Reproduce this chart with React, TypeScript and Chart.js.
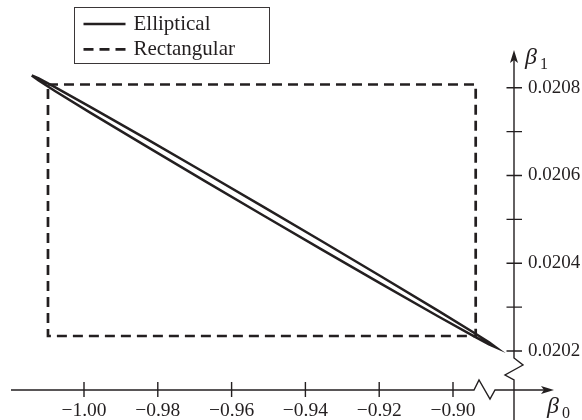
import React, { useEffect, useRef } from 'react';
import { Chart, registerables } from 'chart.js';

Chart.register(...registerables);

// ---- data -------------------------------------------------------------
const xTicks = [-1.0, -0.98, -0.96, -0.94, -0.92, -0.9];
const xTickLabels = ['−1.00', '−0.98', '−0.96', '−0.94', '−0.92', '−0.90'];
const yTicks = [0.0202, 0.0203, 0.0204, 0.0205, 0.0206, 0.0207, 0.0208];
const yTickLabels = ['0.0202', '', '0.0204', '', '0.0206', '', '0.0208'];

// elliptical joint region outline (upper edge left->right, lower edge right->left)
const ellipseBeta0 = [
  -1.01417, -1.01228, -1.00788, -0.99844, -0.98272, -0.96699, -0.95126,
  -0.93553, -0.9198, -0.90408, -0.89464, -0.89024, -0.88835,
  -0.89024, -0.89464, -0.90408, -0.9198, -0.93553, -0.95126, -0.96699,
  -0.98272, -0.99844, -1.00788, -1.01228, -1.01417,
];
const ellipseBeta1 = [
  0.0208278, 0.020821, 0.0208012, 0.0207569, 0.0206815, 0.020605, 0.0205278,
  0.02045, 0.0203715, 0.0202921, 0.0202434, 0.0202198, 0.020208,
  0.020215, 0.0202348, 0.0202791, 0.0203545, 0.020431, 0.0205082, 0.020586,
  0.0206645, 0.0207439, 0.0207926, 0.0208162, 0.0208278,
];

// rectangular (Bonferroni) region
const rectBeta0 = [-1.00976, -0.89385];
const rectBeta1 = [0.0202342, 0.0208073];

// visible ranges of the two axes
const xRange = [-1.020054, -0.883469];
const yRange = [0.0201111, 0.0209087];

// ---- styles -----------------------------------------------------------
const INK = '#231f20';
const SERIF = '"Liberation Serif", "Times New Roman", serif';

const axesPlugin = {
  id: 'mathAxes',
  afterDraw(chart: any) {
    const { ctx, chartArea: ca, scales } = chart;
    const xs = scales.x;
    const ys = scales.y;
    const ax = ca.right;
    const ay = ca.bottom;
    ctx.save();
    ctx.strokeStyle = INK;
    ctx.fillStyle = INK;
    ctx.lineWidth = 1.4;
    ctx.setLineDash([]);

    // x axis with break and arrow
    ctx.beginPath();
    ctx.moveTo(ca.left + 1, ay);
    ctx.lineTo(ax - 40, ay);
    ctx.lineTo(ax - 35, ay - 10);
    ctx.lineTo(ax - 24, ay + 9);
    ctx.lineTo(ax - 19, ay);
    ctx.lineTo(ax + 32, ay);
    ctx.stroke();
    ctx.beginPath();
    ctx.moveTo(ax + 40, ay);
    ctx.lineTo(ax + 27, ay - 4);
    ctx.lineTo(ax + 30, ay);
    ctx.lineTo(ax + 27, ay + 4);
    ctx.closePath();
    ctx.fill();

    // y axis with break and arrow
    const yTop = ca.top + 10;
    ctx.beginPath();
    ctx.moveTo(ax, yTop + 8);
    ctx.lineTo(ax, ay - 32);
    ctx.lineTo(ax + 9, ay - 25);
    ctx.lineTo(ax - 9, ay - 15);
    ctx.lineTo(ax, ay - 10);
    ctx.lineTo(ax, chart.height);
    ctx.stroke();
    ctx.beginPath();
    ctx.moveTo(ax, yTop);
    ctx.lineTo(ax - 4, yTop + 13);
    ctx.lineTo(ax, yTop + 10);
    ctx.lineTo(ax + 4, yTop + 13);
    ctx.closePath();
    ctx.fill();

    // tick marks crossing the axes
    ctx.beginPath();
    xTicks.forEach((v) => {
      const px = xs.getPixelForValue(v);
      ctx.moveTo(px, ay - 8);
      ctx.lineTo(px, ay + 7);
    });
    yTicks.forEach((v) => {
      const py = ys.getPixelForValue(v);
      ctx.moveTo(ax - 7.5, py);
      ctx.lineTo(ax + 8, py);
    });
    ctx.stroke();

    // axis names
    ctx.textAlign = 'left';
    ctx.textBaseline = 'alphabetic';
    ctx.font = `italic 24px ${SERIF}`;
    ctx.fillText('β', ax + 11, yTop + 14);
    ctx.font = `16px ${SERIF}`;
    ctx.fillText('1', ax + 26, yTop + 19);
    ctx.font = `italic 24px ${SERIF}`;
    ctx.fillText('β', ax + 33, ay + 23);
    ctx.font = `16px ${SERIF}`;
    ctx.fillText('0', ax + 48, ay + 28);

    // legend
    const lx = 74.5, ly = 7.5, lw = 195, lh = 56;
    ctx.lineWidth = 1;
    ctx.strokeStyle = '#3a3637';
    ctx.strokeRect(lx, ly, lw, lh);
    ctx.font = `21px ${SERIF}`;
    ctx.textBaseline = 'middle';
    chart.data.datasets.forEach((ds: any, i: number) => {
      const cy = ly + 16.5 + i * 25.3;
      ctx.strokeStyle = INK;
      ctx.lineWidth = ds.borderWidth;
      ctx.setLineDash(ds.borderDash || []);
      ctx.beginPath();
      ctx.moveTo(lx + 9, cy);
      ctx.lineTo(lx + 51, cy);
      ctx.stroke();
      ctx.setLineDash([]);
      ctx.fillStyle = INK;
      ctx.fillText(ds.label, lx + 59, cy);
    });
    ctx.restore();
  },
};

export default function App() {
  const ref = useRef<HTMLCanvasElement | null>(null);
  useEffect(() => {
    if (!ref.current) return;
    const ellipse = ellipseBeta0.map((b0, i) => ({ x: b0, y: ellipseBeta1[i] }));
    const rect = [
      { x: rectBeta0[0], y: rectBeta1[1] },
      { x: rectBeta0[1], y: rectBeta1[1] },
      { x: rectBeta0[1], y: rectBeta1[0] },
      { x: rectBeta0[0], y: rectBeta1[0] },
      { x: rectBeta0[0], y: rectBeta1[1] },
    ];
    const chart = new Chart(ref.current, {
      type: 'scatter',
      data: {
        datasets: [
          {
            label: 'Elliptical',
            data: ellipse,
            showLine: true,
            borderColor: INK,
            borderWidth: 2.5,
            pointRadius: 0,
            fill: false,
            tension: 0,
          },
          {
            label: 'Rectangular',
            data: rect,
            showLine: true,
            borderColor: INK,
            borderWidth: 2.7,
            borderDash: [10, 6],
            pointRadius: 0,
            fill: false,
            tension: 0,
          },
        ],
      },
      options: {
        responsive: false,
        animation: false,
        devicePixelRatio: 1,
        layout: { padding: { left: 10, top: 40, right: 0, bottom: 0 } },
        plugins: { legend: { display: false }, tooltip: { enabled: false }, title: { display: false } },
        events: [],
        scales: {
          x: {
            type: 'linear',
            position: 'bottom',
            min: xRange[0],
            max: xRange[1],
            grid: { display: false, drawTicks: false },
            border: { display: false },
            afterBuildTicks: (s: any) => {
              s.ticks = xTicks.map((value) => ({ value }));
            },
            afterFit: (s: any) => {
              s.height = 30;
            },
            ticks: {
              autoSkip: false,
              maxRotation: 0,
              padding: 9,
              color: INK,
              font: { family: SERIF, size: 19.5 },
              callback: (_v: any, i: number) => xTickLabels[i],
            },
          },
          y: {
            type: 'linear',
            position: 'right',
            min: yRange[0],
            max: yRange[1],
            grid: { display: false, drawTicks: false },
            border: { display: false },
            afterBuildTicks: (s: any) => {
              s.ticks = yTicks.map((value) => ({ value }));
            },
            afterFit: (s: any) => {
              s.width = 68;
            },
            ticks: {
              autoSkip: false,
              padding: 14,
              color: INK,
              font: { family: SERIF, size: 19 },
              callback: (_v: any, i: number) => yTickLabels[i],
            },
          },
        },
      },
      plugins: [axesPlugin],
    });
    return () => chart.destroy();
  }, []);
  return (
    <div style={{ position: 'absolute', left: 0, top: 0, width: 582, height: 420, background: '#fff' }}>
      <canvas ref={ref} width={582} height={420} style={{ display: 'block', width: 582, height: 420 }} />
    </div>
  );
}
